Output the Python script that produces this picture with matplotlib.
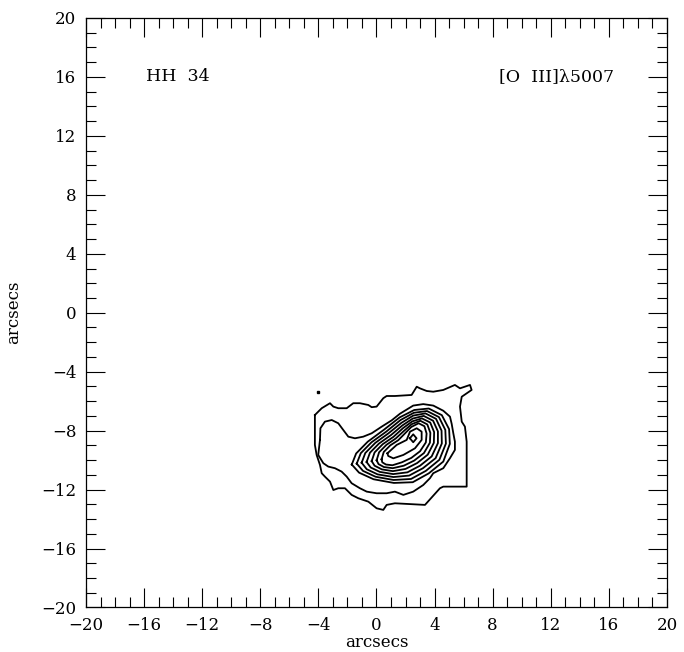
import numpy as np
import matplotlib
matplotlib.use("Agg")
import matplotlib.pyplot as plt
from matplotlib.ticker import MultipleLocator

plt.rcParams["font.family"] = ["DejaVu Serif"]

# contour outlines (arcsec offsets), outermost level first
outer_x = [-4.24, -3.77, -3.20, -2.97, -2.63, -2.05, -1.60, -1.14, -0.56, -0.33, 0.01, 0.47, 0.70, 1.27,
           2.42, 2.77, 2.99, 3.46, 3.91, 4.60, 5.40, 5.75, 6.44, 6.55, 5.87, 5.75, 5.87, 6.09, 6.21, 6.21,
           4.60, 4.37, 3.34, 1.27, 0.70, 0.47, 0.01, -0.56, -1.25, -1.71, -2.17, -2.63, -2.97, -3.20,
           -3.55, -3.77, -3.89, -4.12, -4.24]
outer_y = [-6.94, -6.48, -6.14, -6.37, -6.48, -6.48, -6.14, -6.14, -6.26, -6.41, -6.37, -5.80, -5.65, -5.65,
           -5.58, -5.02, -5.13, -5.31, -5.36, -5.24, -4.90, -5.13, -4.90, -5.24, -5.70, -6.37, -7.39, -7.73,
           -8.75, -11.80, -11.80, -11.91, -13.04, -12.93, -13.04, -13.38, -13.27, -12.82, -12.59, -12.36,
           -11.91, -11.91, -12.03, -11.46, -11.12, -10.89, -10.33, -9.65, -8.97]

second_x = [-3.89, -3.86, -3.55, -3.08, -2.63, -2.29, -1.94, -1.48, -0.91, -0.33, 0.36, 1.05, 1.62, 2.53,
            3.22, 3.91, 4.60, 5.06, 5.18, 5.29, 5.40, 5.40, 5.06, 4.60, 3.91, 3.68, 3.22, 2.53, 1.85, 1.27,
            0.70, 0.01, -0.67, -1.14, -1.71, -2.05, -2.40, -2.86, -3.32, -3.66, -4.01]
second_y = [-8.63, -7.84, -7.39, -7.28, -7.50, -7.95, -8.41, -8.52, -8.41, -8.18, -7.73, -7.30, -6.85, -6.30,
            -6.20, -6.30, -6.65, -7.05, -7.55, -8.18, -8.75, -9.31, -9.87, -10.55, -10.89, -11.23, -11.69,
            -12.14, -12.36, -12.14, -12.25, -12.25, -12.14, -11.91, -11.57, -11.12, -10.78, -10.55, -10.44,
            -10.21, -9.65]

# nested levels around the peak, outer to inner
ring_a_x = [-1.70, -1.40, -0.60, 0.50, 1.60, 2.60, 3.60, 4.50, 5.00, 5.05, 4.60, 3.60, 2.50, 1.20, -0.20, -1.20]
ring_a_y = [-10.30, -9.55, -8.75, -7.95, -7.10, -6.60, -6.50, -6.95, -7.90, -8.90, -10.10, -10.90, -11.50,
            -11.55, -11.30, -10.85]
ring_b_x = [-1.36, -1.08, -0.34, 0.67, 1.66, 2.57, 3.48, 4.30, 4.74, 4.78, 4.33, 3.40, 2.38, 1.18, -0.06, -0.93]
ring_b_y = [-10.24, -9.53, -8.79, -8.07, -7.28, -6.79, -6.67, -7.08, -7.95, -8.88, -9.98, -10.73, -11.28,
            -11.35, -11.13, -10.73]
ring_c_x = [-1.02, -0.77, -0.08, 0.83, 1.72, 2.53, 3.37, 4.10, 4.48, 4.50, 4.07, 3.20, 2.25, 1.17, 0.08, -0.67]
ring_c_y = [-10.18, -9.52, -8.83, -8.18, -7.47, -6.98, -6.83, -7.20, -8.00, -8.87, -9.87, -10.55, -11.05,
            -11.15, -10.97, -10.62]
ring_d_x = [-0.68, -0.45, 0.17, 1.00, 1.78, 2.50, 3.25, 3.90, 4.23, 4.23, 3.80, 3.00, 2.13, 1.15, 0.23, -0.40]
ring_d_y = [-10.13, -9.50, -8.88, -8.30, -7.65, -7.18, -7.00, -7.33, -8.05, -8.85, -9.75, -10.38, -10.83,
            -10.95, -10.80, -10.50]
ring_e_x = [-0.33, -0.13, 0.43, 1.17, 1.83, 2.47, 3.13, 3.70, 3.97, 3.95, 3.53, 2.80, 2.00, 1.13, 0.37, -0.13]
ring_e_y = [-10.07, -9.48, -8.92, -8.42, -7.83, -7.37, -7.17, -7.45, -8.10, -8.83, -9.63, -10.20, -10.60,
            -10.75, -10.63, -10.38]
ring_f_x = [0.01, 0.18, 0.69, 1.33, 1.89, 2.43, 3.02, 3.50, 3.71, 3.68, 3.27, 2.60, 1.88, 1.12, 0.51, 0.14]
ring_f_y = [-10.01, -9.47, -8.96, -8.53, -8.02, -7.56, -7.33, -7.58, -8.15, -8.82, -9.52, -10.03, -10.38,
            -10.55, -10.47, -10.27]
ring_g_x = [0.35, 0.50, 0.95, 1.50, 1.95, 2.40, 2.90, 3.30, 3.45, 3.40, 3.00, 2.40, 1.75, 1.10, 0.65, 0.40]
ring_g_y = [-9.95, -9.45, -9.00, -8.65, -8.20, -7.75, -7.50, -7.70, -8.20, -8.80, -9.40, -9.85, -10.15,
            -10.35, -10.30, -10.15]

core_x = [0.75, 1.39, 2.08, 2.31, 2.77, 3.11, 3.11, 2.65, 1.85, 1.16, 0.81]
core_y = [-9.54, -8.97, -8.63, -8.07, -7.84, -8.07, -8.63, -9.20, -9.65, -9.88, -9.72]
peak_x = [2.30, 2.53, 2.76, 2.53]
peak_y = [-8.52, -8.25, -8.52, -8.79]

# isolated pixel above the emission
spot_x = [-4.0]
spot_y = [-5.36]

contours = [
    (outer_x, outer_y), (second_x, second_y),
    (ring_a_x, ring_a_y), (ring_b_x, ring_b_y), (ring_c_x, ring_c_y), (ring_d_x, ring_d_y),
    (ring_e_x, ring_e_y), (ring_f_x, ring_f_y), (ring_g_x, ring_g_y),
    (core_x, core_y), (peak_x, peak_y),
]

fig = plt.figure(figsize=(6.84, 6.52), dpi=100)
ax = fig.add_axes([0.1257, 0.0683, 0.8494, 0.9041])

for cx, cy in contours:
    # close each loop
    ax.plot(cx + cx[:1], cy + cy[:1], color="black", lw=1.3, solid_joinstyle="round")

ax.plot(spot_x, spot_y, "s", color="black", ms=1.5)

ax.set_xlim(-20, 20)
ax.set_ylim(-20, 20)
ax.xaxis.set_major_locator(MultipleLocator(4))
ax.yaxis.set_major_locator(MultipleLocator(4))
ax.xaxis.set_minor_locator(MultipleLocator(1))
ax.yaxis.set_minor_locator(MultipleLocator(1))
ax.tick_params(which="both", direction="in", top=True, right=True, width=0.8, labelsize=12)
ax.tick_params(which="major", length=14, pad=7)
ax.tick_params(which="minor", length=7)
for sp in ax.spines.values():
    sp.set_linewidth(0.9)

ax.set_xlabel("arcsecs", fontsize=12, labelpad=0)
ax.set_ylabel("arcsecs", fontsize=12, labelpad=14)

ax.text(-15.9, 16, "HH  34", fontsize=12.5, va="center", ha="left")
ax.text(16.35, 16, "[O  III]λ5007", fontsize=12.5, va="center", ha="right")

fig.savefig("out.png", dpi=100)
